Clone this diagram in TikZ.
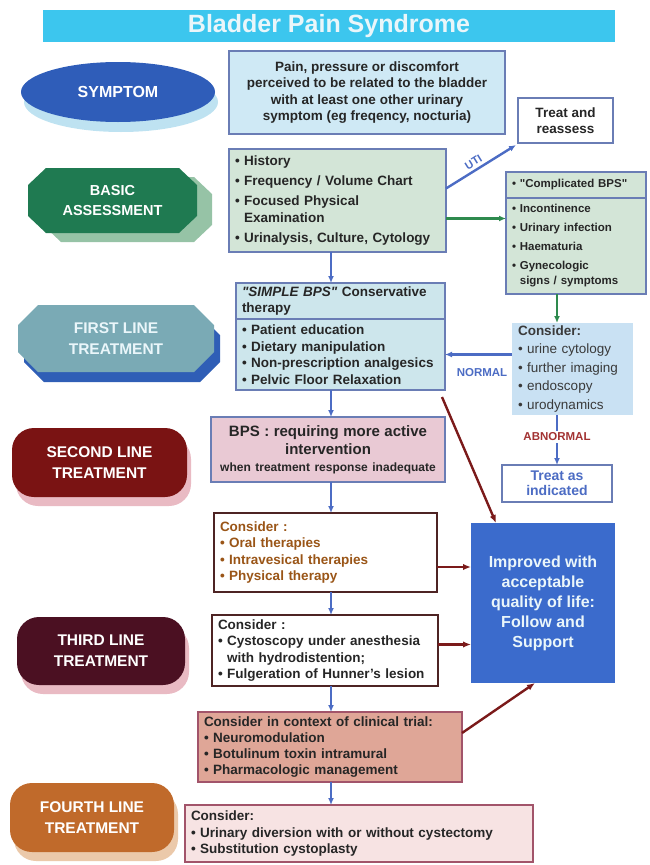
\documentclass[tikz,border=0pt]{standalone}
\usepackage{fontspec}
\setmainfont{Liberation Sans}
\usetikzlibrary{arrows.meta,shapes.geometric,shadows}

\definecolor{TitleCyan}{HTML}{3CC6EE}
\definecolor{TitleText}{HTML}{EAF6FA}
\definecolor{SymBlue}{HTML}{2F5DB9}
\definecolor{SymShade}{HTML}{BEE2F1}
\definecolor{SymFill}{HTML}{CFE9F5}
\definecolor{FrameBlue}{HTML}{6A7DB5}
\definecolor{BasicGreen}{HTML}{1F7A51}
\definecolor{BasicShade}{HTML}{96C3A6}
\definecolor{AssessFill}{HTML}{D3E5D7}
\definecolor{ArrowBlue}{HTML}{4C6CC4}
\definecolor{ArrowGreen}{HTML}{2E8A4E}
\definecolor{FirstTeal}{HTML}{7AAAB5}
\definecolor{FirstShade}{HTML}{2F5EB6}
\definecolor{SimpleFill}{HTML}{CDE6EC}
\definecolor{ConsFill}{HTML}{C9E1F3}
\definecolor{SecondRed}{HTML}{7A1313}
\definecolor{PinkShade}{HTML}{E9BAC3}
\definecolor{BpsFill}{HTML}{E9C9D4}
\definecolor{OralText}{HTML}{9A5517}
\definecolor{DarkFrame}{HTML}{4E2424}
\definecolor{ThirdMaroon}{HTML}{4B1022}
\definecolor{TrialFill}{HTML}{DFA697}
\definecolor{TrialFrame}{HTML}{A2546A}
\definecolor{FourthOrange}{HTML}{C06A2B}
\definecolor{FourthShade}{HTML}{EBC9AA}
\definecolor{FourthFill}{HTML}{F7E3E3}
\definecolor{ImprovedBlue}{HTML}{3B6BCC}
\definecolor{ArrowRed}{HTML}{7B1A1A}
\definecolor{AbnRed}{HTML}{A23232}
\definecolor{TextDark}{HTML}{262626}
\definecolor{ConsText}{HTML}{3A3A3A}

\newcommand{\bul}{\textbullet\ }
\newcommand{\bulind}{\phantom{\textbullet\ }}
\newcommand{\bodysize}{\fontsize{13.5}{16.6}\selectfont}

\begin{document}
\begin{tikzpicture}[x=1pt,y=-1pt,
      every node/.append style={inner sep=0pt,outer sep=0pt,font=\bfseries,text=TextDark},
      bluearrow/.style={-{Latex[length=7pt,width=6pt]},ArrowBlue,line width=2.4pt},
      greenarrow/.style={-{Latex[length=7pt,width=6pt]},ArrowGreen,line width=2.4pt},
      redarrow/.style={-{Latex[length=8pt,width=6.5pt]},ArrowRed,line width=2.4pt},
      tag/.style={text=white,align=center,font=\fontsize{15.5}{21}\selectfont\bfseries},
      centerbox/.style={draw=FrameBlue,line width=1.3pt,align=center,font=\bodysize\bfseries},
      listbox/.style={draw=FrameBlue,line width=1.3pt,anchor=north west,align=left,
        inner xsep=6pt,font=\bodysize\bfseries}]
    \useasboundingbox (0,0) rectangle (649,865);
    \coordinate (spine) at (331,0);

    \node[fill=TitleCyan,minimum width=572,minimum height=32,text=TitleText,
      font=\fontsize{25}{28}\selectfont\bfseries] (title) at (329,26) {Bladder Pain Syndrome};

    % left column
    \node[ellipse,fill=SymBlue,minimum width=194,minimum height=60,tag,font=\fontsize{16}{20}\selectfont\bfseries,
      drop shadow={shadow xshift=3pt,shadow yshift=-10pt,fill=SymShade,opacity=1}] (symptom) at (118,92) {SYMPTOM};
    \fill[BasicGreen,drop shadow={shadow xshift=15pt,shadow yshift=-9pt,fill=BasicShade,opacity=1}]
      (46,168) -- (179,168) -- (197,185) -- (197,216) -- (179,233) -- (46,233) -- (28,216) -- (28,185) -- cycle;
    \node[tag,font=\fontsize{14.5}{20}\selectfont\bfseries] (basic) at (112.5,200.5) {BASIC\\ASSESSMENT};
    \fill[FirstTeal,drop shadow={shadow xshift=6pt,shadow yshift=-10pt,fill=FirstShade,opacity=1}]
      (38,305) -- (194,305) -- (214,325) -- (214,352) -- (194,372) -- (38,372) -- (18,352) -- (18,325) -- cycle;
    \node[tag,text=TitleText] (first) at (116,338.5) {FIRST LINE\\TREATMENT};
    \node[tag,fill=SecondRed,rounded corners=22pt,minimum width=175,minimum height=69,
      drop shadow={shadow xshift=4pt,shadow yshift=-9pt,fill=PinkShade,opacity=1}] (second) at (99.5,462.5) {SECOND LINE\\TREATMENT};
    \node[tag,fill=ThirdMaroon,rounded corners=22pt,minimum width=168,minimum height=68,
      drop shadow={shadow xshift=4pt,shadow yshift=-9pt,fill=PinkShade,opacity=1}] (third) at (101,651) {THIRD LINE\\TREATMENT};
    \node[tag,fill=FourthOrange,rounded corners=22pt,minimum width=164,minimum height=69,
      drop shadow={shadow xshift=4pt,shadow yshift=-9pt,fill=FourthShade,opacity=1}] (fourth) at (92,817.5) {FOURTH LINE\\TREATMENT};

    % middle column
    \node[centerbox,fill=SymFill,minimum width=276,minimum height=83] (symbox) at (367,92.5)
      {Pain, pressure or discomfort\\perceived to be related to the bladder\\with at least one other urinary\\symptom (eg freqency, nocturia)};
    \node[listbox,fill=AssessFill,text width=205,minimum height=103] (assess) at (229,149)
      {\bul History\\[3.5pt]\bul Frequency / Volume Chart\\[3.5pt]\bul Focused Physical\\\bulind Examination\\[3.5pt]\bul Urinalysis, Culture, Cytology};
    \node[listbox,fill=SimpleFill,text width=197,minimum height=36] (simplehead) at (236,283)
      {\textit{\textquotedbl SIMPLE BPS\textquotedbl} Conservative\\therapy};
    \node[listbox,fill=SimpleFill,text width=197,minimum height=71] (simplebody) at (236,319)
      {\bul Patient education\\\bul Dietary manipulation\\\bul Non-prescription analgesics\\\bul Pelvic Floor Relaxation};
    \node[centerbox,fill=BpsFill,text width=222,minimum width=234,minimum height=65] (bps) at (328,449.5)
      {{\fontsize{15}{18}\selectfont BPS : requiring more active\\intervention\par}{\fontsize{12}{17}\selectfont when treatment response inadequate\par}};
    \node[listbox,draw=DarkFrame,fill=white,text=OralText,text width=211,minimum height=79] (oral) at (214,513)
      {Consider :\\\bul Oral therapies\\\bul Intravesical therapies\\\bul Physical therapy};
    \node[listbox,draw=DarkFrame,fill=white,text width=214,minimum height=71] (thirdbox) at (212,615)
      {Consider :\\\bul Cystoscopy under anesthesia\\\bulind with hydrodistention;\\\bul Fulgeration of Hunner's lesion};
    \node[listbox,draw=TrialFrame,fill=TrialFill,text width=252,minimum height=70,
      font=\fontsize{13.5}{15.7}\selectfont\bfseries] (trial) at (198,712)
      {Consider in context of clinical trial:\\\bul Neuromodulation\\\bul Botulinum toxin intramural\\\bul Pharmacologic management};
    \node[listbox,draw=TrialFrame,fill=FourthFill,text width=336,minimum height=57] (fourthbox) at (185,805)
      {Consider:\\\bul Urinary diversion with or without cystectomy\\\bul Substitution cystoplasty};

    % right column
    \node[centerbox,fill=white,minimum width=95,minimum height=45] (treatre) at (565.5,120.5) {Treat and\\reassess};
    \node[listbox,fill=AssessFill,text width=128,minimum height=26,font=\fontsize{11.5}{15}\selectfont\bfseries] (complhead) at (506,172)
      {\bul \textquotedbl Complicated BPS\textquotedbl};
    \node[listbox,fill=AssessFill,text width=128,minimum height=96,font=\fontsize{11.5}{15}\selectfont\bfseries] (complbody) at (506,198)
      {\bul Incontinence\\[4pt]\bul Urinary infection\\[4pt]\bul Haematuria\\[4pt]\bul Gynecologic\\\bulind signs / symptoms};
    \node[listbox,draw=none,fill=ConsFill,text width=109,minimum height=92,text=ConsText,font=\fontsize{13.5}{18.5}\selectfont] (consider) at (512,323)
      {\textbf{Consider:}\\\bul urine cytology\\\bul further imaging\\\bul endoscopy\\\bul urodynamics};
    \node[centerbox,fill=white,text=ArrowBlue,minimum width=110,minimum height=37,font=\fontsize{14}{15}\selectfont\bfseries] (treatind) at (557,483.5)
      {Treat as\\indicated};
    \node[fill=ImprovedBlue,minimum width=144,minimum height=160,text=TitleText,align=center,
      font=\fontsize{16}{20}\selectfont\bfseries] (improved) at (543,603)
      {Improved with\\acceptable\\quality of life:\\Follow and\\Support};
    \node[text=ArrowBlue,font=\fontsize{11.5}{13}\selectfont\bfseries] (normal) at (482,373) {NORMAL};
    \node[text=AbnRed,font=\fontsize{11.5}{13}\selectfont\bfseries] (abnormal) at (557,437) {ABNORMAL};

    % connectors
    \draw[bluearrow] (spine |- assess.south) -- (spine |- simplehead.north);
    \draw[bluearrow] (spine |- simplebody.south) -- (spine |- bps.north);
    \draw[bluearrow] (spine |- bps.south) -- (spine |- oral.north);
    \draw[bluearrow] (spine |- oral.south) -- (spine |- thirdbox.north);
    \draw[bluearrow] (spine |- thirdbox.south) -- (spine |- trial.north);
    \draw[bluearrow] (spine |- trial.south) -- (spine |- fourthbox.north);
    \draw[bluearrow] ([yshift=12pt]assess.east) -- node[pos=0.45,sloped,above=4pt,text=ArrowBlue,font=\fontsize{11}{12}\selectfont\bfseries] (uti) {UTI}
      ([xshift=-2pt,yshift=-2pt]treatre.south west);
    \draw[greenarrow] ([yshift=-18pt]assess.east) -- ([yshift=-18pt]assess.east -| complbody.west);
    \draw[greenarrow] (treatind.north |- complbody.south) -- (treatind.north |- consider.north);
    \draw[bluearrow] (consider.west |- simplebody.east) -- (simplebody.east);
    \draw[ArrowBlue,line width=2.4pt] (treatind.north |- consider.south) -- ([yshift=2pt]abnormal.north);
    \draw[bluearrow] ([yshift=-2pt]abnormal.south) -- (treatind.north);
    \draw[redarrow] ([xshift=-3pt,yshift=-7pt]simplebody.south east) -- ([xshift=25pt]improved.north west);
    \draw[redarrow] ([yshift=-14.5pt]oral.east) -- ([yshift=-14.5pt]oral.east -| improved.west);
    \draw[redarrow] ([yshift=6pt]thirdbox.east) -- ([yshift=6pt]thirdbox.east -| improved.west);
    \draw[redarrow] ([yshift=14pt]trial.east) -- ([xshift=64pt]improved.south west);
\end{tikzpicture}
\end{document}
